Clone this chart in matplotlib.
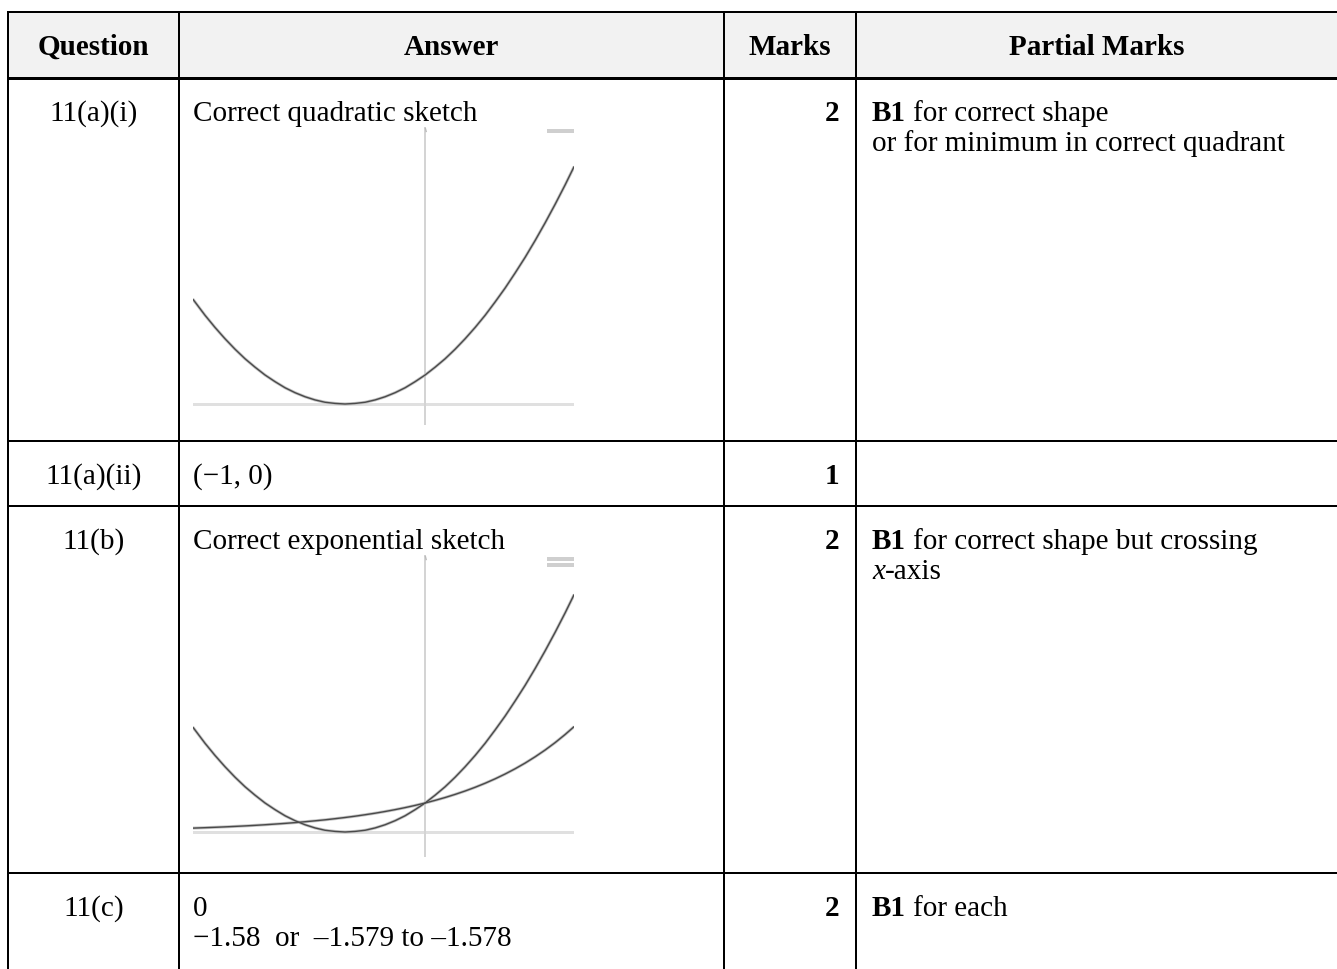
import matplotlib.pyplot as plt
from matplotlib.patches import Rectangle

plt.rcParams['font.family'] = ['Liberation Serif', 'DejaVu Serif']

# table content
headers = ['Question', 'Answer', 'Marks', 'Partial Marks']
questions = ['11(a)(i)', '11(a)(ii)', '11(b)', '11(c)']
answers = [['Correct quadratic sketch'],
           ['(\u22121, 0)'],
           ['Correct exponential sketch'],
           ['0', '\u22121.58  or  \u20131.579 to \u20131.578']]
marks = ['2', '1', '2', '2']
# each line is a list of (text, style) pieces
partial = [
    [[('B1', 'bold'), ('for correct shape', 'normal')],
     [('or for minimum in correct quadrant', 'normal')]],
    [],
    [[('B1', 'bold'), ('for correct shape but crossing', 'normal')],
     [('x', 'italic'), ('-axis', 'normal')]],
    [[('B1', 'bold'), ('for each', 'normal')]],
]

quad_x = [-2.9, -2.75, -2.625, -2.5, -2.375, -2.25, -2.125, -2.0, -1.875, -1.75,
          -1.625, -1.5, -1.375, -1.25, -1.125, -1.0, -0.875, -0.75, -0.625, -0.5,
          -0.375, -0.25, -0.125, 0.0, 0.125, 0.25, 0.375, 0.5, 0.625, 0.75,
          0.875, 1.0, 1.125, 1.25, 1.375, 1.5, 1.625, 1.75, 1.86]
quad_y = [3.61, 3.06, 2.64, 2.25, 1.89, 1.56, 1.27, 1.0, 0.77, 0.56,
          0.39, 0.25, 0.14, 0.06, 0.02, 0.0, 0.02, 0.06, 0.14, 0.25,
          0.39, 0.56, 0.77, 1.0, 1.27, 1.56, 1.89, 2.25, 2.64, 3.06,
          3.52, 4.0, 4.52, 5.06, 5.64, 6.25, 6.89, 7.56, 8.18]
exp_x = quad_x
exp_y = [0.134, 0.149, 0.162, 0.177, 0.193, 0.210, 0.229, 0.25, 0.273, 0.297,
         0.324, 0.354, 0.386, 0.420, 0.459, 0.5, 0.545, 0.595, 0.648, 0.707,
         0.771, 0.841, 0.917, 1.0, 1.091, 1.189, 1.297, 1.414, 1.542, 1.682,
         1.834, 2.0, 2.181, 2.378, 2.594, 2.828, 3.084, 3.364, 3.63]

W, H = 1337, 969
col_x = [8, 179, 724, 856]
row_top = [78, 441, 506, 873]
FS = 21
PX = 0.72  # points per pixel at dpi 100

fig = plt.figure(figsize=(W / 100, H / 100), dpi=100)
ax = fig.add_axes([0, 0, 1, 1])
ax.set_xlim(0, W)
ax.set_ylim(H, 0)
ax.axis('off')

# header band
ax.add_patch(Rectangle((col_x[0], 12), W - col_x[0], 66, facecolor='#f2f2f2', edgecolor='none'))

# grid lines
ax.plot([col_x[0], W], [12, 12], color='black', lw=2 * PX)
ax.plot([col_x[0], W], [78, 78], color='black', lw=3 * PX)
for y in row_top[1:]:
    ax.plot([col_x[0], W], [y, y], color='black', lw=2 * PX)
for x in col_x:
    ax.plot([x, x], [12, H], color='black', lw=2 * PX)

# header text
centers = [(col_x[0] + col_x[1]) / 2, (col_x[1] + col_x[2]) / 2,
           (col_x[2] + col_x[3]) / 2, (col_x[3] + W) / 2]
for cx, h in zip(centers, headers):
    ax.text(cx, 55, h, ha='center', va='baseline', fontsize=FS, fontweight='bold')


def put_line(x, y, pieces):
    prev = None
    prev_style = None
    for txt, style in pieces:
        kw = dict(fontsize=FS)
        if style == 'bold':
            kw['fontweight'] = 'bold'
        if style == 'italic':
            kw['fontstyle'] = 'italic'
        if prev is None:
            prev = ax.text(x, y, txt, ha='left', va='baseline', **kw)
        else:
            gap = 5.2 if prev_style == 'bold' else 0
            prev = ax.annotate(txt, xy=(1, 0), xycoords=prev, xytext=(gap, 0),
                               textcoords='offset points', ha='left', va='bottom', **kw)
        prev_style = style


for i, top in enumerate(row_top):
    base = top + 43
    ax.text(centers[0], base, questions[i], ha='center', va='baseline', fontsize=FS)
    for k, line in enumerate(answers[i]):
        ax.text(193, base + 30 * k, line, ha='left', va='baseline', fontsize=FS)
    ax.text(839, base, marks[i], ha='right', va='baseline', fontsize=FS, fontweight='bold')
    for k, line in enumerate(partial[i]):
        put_line(872, base + 30 * k, line)


def sketch(top, bottom, y_zero, curves, n_leg):
    left, right = 193, 574
    sa = fig.add_axes([left / W, 1 - bottom / H, (right - left) / W, (bottom - top) / H])
    ppu = 29.0
    sa.set_xlim(-2.9, 1.86)
    sa.set_ylim(-(bottom - y_zero) / ppu, (y_zero - top) / ppu)
    sa.axis('off')
    sa.axhline(0, color='#e0e0e0', lw=3 * PX, zorder=1)
    sa.axvline(0, color='#d4d4d4', lw=2 * PX, zorder=1)
    for xs, ys in curves:
        sa.plot(xs, ys, color='#c4c4c4', lw=3 * PX, solid_capstyle='butt', zorder=2)
        sa.plot(xs, ys, color='#4a4a4a', lw=1.4 * PX, zorder=3)
    # faint legend marks in the corner
    for k in range(n_leg):
        sa.plot([0.93, 1.0], [0.988 - 0.02 * k] * 2, color='#cfcfcf', lw=4 * PX,
                transform=sa.transAxes, solid_capstyle='butt')
    sa.plot([0.61, 0.612], [0.995, 0.985], color='#bbbbbb', lw=1, transform=sa.transAxes)


sketch(127, 425, 404, [(quad_x, quad_y)], 1)
sketch(555, 857, 832, [(quad_x, quad_y), (exp_x, exp_y)], 2)

fig.savefig('out.png', dpi=100)
